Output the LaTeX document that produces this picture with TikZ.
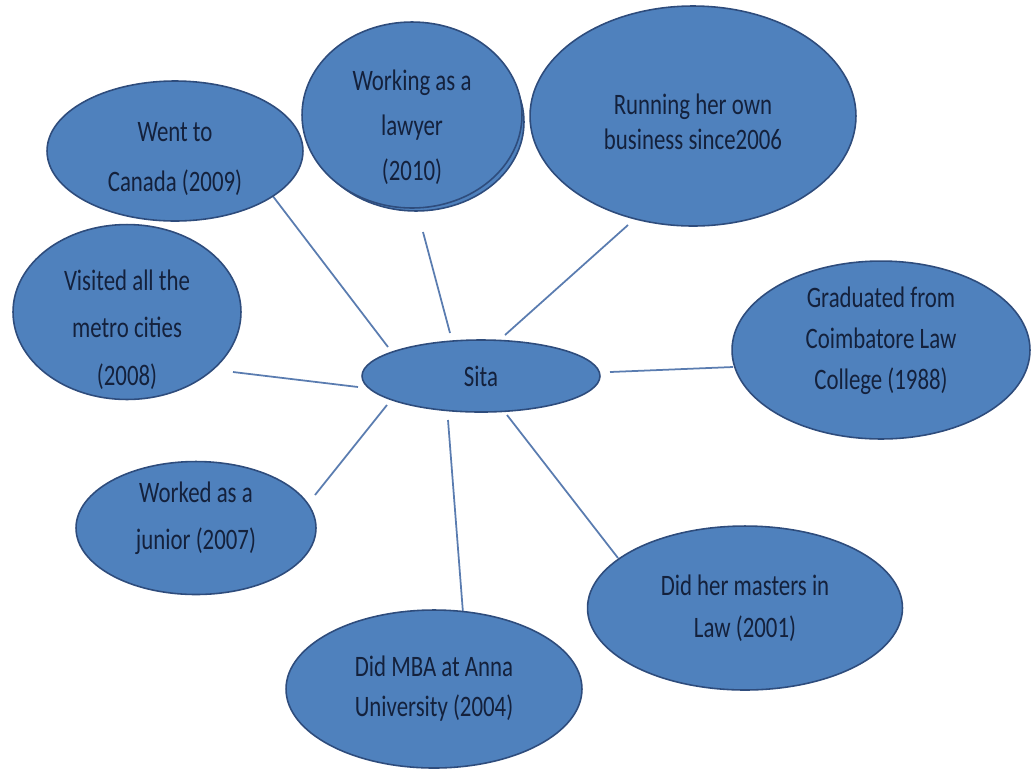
\documentclass[tikz,border=0pt]{standalone}
\usepackage{fontspec}
\setmainfont{Carlito}
\usetikzlibrary{shapes.geometric}

\definecolor{bubblefill}{HTML}{4F81BD}
\definecolor{bubbleedge}{HTML}{2E4C7C}
\definecolor{bubbletext}{HTML}{14213C}
\definecolor{linkcol}{HTML}{5A7CB0}

% extra room above the first line / below the last line of a label
\newcommand{\padtop}[1]{\rule{0pt}{#1}}
\newcommand{\padbot}[1]{\rule[-#1]{0pt}{0pt}}

\begin{document}
\begin{tikzpicture}[
                x=0.02cm, y=-0.02cm,
                bubble/.style={ellipse, draw=bubbleedge, fill=bubblefill, line width=0.9pt,
                    inner xsep=0pt, inner ysep=-12pt, align=center, text=bubbletext,
                    yscale=1.3, transform shape,
                    font=\fontsize{13}{19}\selectfont},
                link/.style={draw=linkcol, line width=1pt}
            ]
            \useasboundingbox (0,0) rectangle (1033,772);

            % connector ends
            \coordinate (canadaend) at (272,195);
            \coordinate (lawyerend) at (423,232);
            \coordinate (businessend) at (628,225);
            \coordinate (metroend) at (233,372);
            \coordinate (gradend) at (733,367);
            \coordinate (juniorend) at (315,495);
            \coordinate (mbaend) at (463,613);
            \coordinate (mastersend) at (618,558);
            \coordinate (sitacanada) at (388,347);
            \coordinate (sitalawyer) at (450,333);
            \coordinate (sitabusiness) at (505,335);
            \coordinate (sitametro) at (358,387);
            \coordinate (sitagrad) at (610,372);
            \coordinate (sitajunior) at (387,405);
            \coordinate (sitamba) at (448,420);
            \coordinate (sitamasters) at (507,415);

            \foreach \from/\to in {sitacanada/canadaend, sitalawyer/lawyerend,
                sitabusiness/businessend, sitametro/metroend, sitagrad/gradend,
                sitajunior/juniorend, sitamba/mbaend, sitamasters/mastersend}
                \draw[link] (\from) -- (\to);

            \node[bubble, minimum width=5.12cm, minimum height=2.154cm,
                font=\fontsize{13}{21.9}\selectfont] (canada) at (175,151)
                {\padtop{15.2pt}Went to\\Canada (2009)};
            \draw[draw=bubbleedge, fill=bubblefill, line width=0.9pt] (416,122) ellipse (2.16cm and 1.78cm);
            \node[bubble, minimum width=4.4cm, minimum height=2.862cm,
                font=\fontsize{13}{19.7}\selectfont] (lawyer) at (412,115)
                {\padtop{20pt}Working as a\\lawyer\\(2010)};
            \node[bubble, minimum width=6.52cm, minimum height=3.385cm,
                font=\fontsize{13}{15.3}\selectfont] (business) at (693,116)
                {\padtop{13.9pt}Running her own\\business since2006};
            \node[bubble, minimum width=4.56cm, minimum height=2.692cm,
                font=\fontsize{13}{20.8}\selectfont] (metro) at (127,312)
                {\padtop{24.4pt}Visited all the\\metro cities\\(2008)};
            \node[bubble, minimum width=4.76cm, minimum height=1.108cm] (sita) at (481,376)
                {Sita};
            \node[bubble, minimum width=5.96cm, minimum height=2.738cm,
                font=\fontsize{13}{17.9}\selectfont] (grad) at (881,350)
                {Graduated from\\Coimbatore Law\\College (1988)\padbot{10.4pt}};
            \node[bubble, minimum width=4.8cm, minimum height=2.046cm,
                font=\fontsize{13}{21}\selectfont] (junior) at (196,528)
                {Worked as a\\junior (2007)\padbot{10.8pt}};
            \node[bubble, minimum width=6.3cm, minimum height=2.523cm,
                font=\fontsize{13}{18.4}\selectfont] (masters) at (745,608)
                {Did her masters in\\Law (2001)};
            \node[bubble, minimum width=5.92cm, minimum height=2.431cm,
                font=\fontsize{13}{17.5}\selectfont] (mba) at (434,689)
                {Did MBA at Anna\\University (2004)};
        \end{tikzpicture}
\end{document}
